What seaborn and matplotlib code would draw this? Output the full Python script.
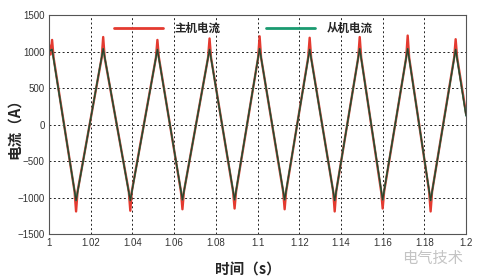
import matplotlib
matplotlib.use("Agg")
import matplotlib.pyplot as plt
import seaborn as sns
import pandas as pd

# data
slave_time = [1.000, 1.0015, 1.013, 1.026, 1.039, 1.052, 1.064, 1.077, 1.089,
              1.101, 1.113, 1.125, 1.137, 1.149, 1.160, 1.172, 1.183, 1.195, 1.200]
slave_current = [1005, 1030, -1040, 1040, -1040, 1030, -1030, 1030, -1030,
                 1040, -1030, 1030, -1040, 1040, -1030, 1040, -1040, 1030, 120]
main_time = [1.000, 1.0008, 1.0015, 1.0022,
             1.0123, 1.013, 1.0137,
             1.0253, 1.026, 1.0267,
             1.0383, 1.039, 1.0397,
             1.0513, 1.052, 1.0527,
             1.0633, 1.064, 1.0647,
             1.0763, 1.077, 1.0777,
             1.0883, 1.089, 1.0897,
             1.1003, 1.101, 1.1017,
             1.1123, 1.113, 1.1137,
             1.1243, 1.125, 1.1257,
             1.1363, 1.137, 1.1377,
             1.1483, 1.149, 1.1497,
             1.1593, 1.160, 1.1607,
             1.1713, 1.172, 1.1727,
             1.1823, 1.183, 1.1837,
             1.1943, 1.195, 1.1957,
             1.200]
main_current = [1100, 960, 1160, 920,
                -920, -1190, -920,
                920, 1200, 920,
                -920, -1180, -920,
                920, 1160, 920,
                -920, -1160, -920,
                920, 1180, 920,
                -920, -1150, -920,
                920, 1210, 920,
                -920, -1160, -920,
                920, 1190, 920,
                -920, -1190, -920,
                920, 1200, 920,
                -920, -1150, -920,
                920, 1220, 920,
                -920, -1190, -920,
                920, 1170, 920,
                150]
x_ticks = [1, 1.02, 1.04, 1.06, 1.08, 1.1, 1.12, 1.14, 1.16, 1.18, 1.2]
x_tick_labels = ["1", "1.02", "1.04", "1.06", "1.08", "1.1", "1.12", "1.14", "1.16", "1.18", "1.2"]
y_ticks = [-1500, -1000, -500, 0, 500, 1000, 1500]
series_names = ["主机电流", "从机电流"]

sns.set_style("white")
cjk = ["Noto Sans CJK SC", "DejaVu Sans"]
plt.rcParams["font.family"] = ["Liberation Sans", "DejaVu Sans"]

main_df = pd.DataFrame({"t": main_time, "i": main_current})
slave_df = pd.DataFrame({"t": slave_time, "i": slave_current})

fig = plt.figure(figsize=(4.8, 2.8), dpi=100)
ax = fig.add_axes([0.102, 0.164, 0.869, 0.782])

sns.lineplot(data=main_df, x="t", y="i", ax=ax, color="#e43a30", linewidth=1.7,
             label=series_names[0])
sns.lineplot(data=slave_df, x="t", y="i", ax=ax, color="#1a9a70", linewidth=1.2,
             label=series_names[1])
# dark core where the two currents coincide
sns.lineplot(data=slave_df, x="t", y="i", ax=ax, color="#3d2e1c", linewidth=0.9,
             alpha=0.9, legend=False)

ax.set_xlim(1, 1.2)
ax.set_ylim(-1500, 1500)
ax.set_xticks(x_ticks)
ax.set_xticklabels(x_tick_labels)
ax.set_yticks(y_ticks)
ax.tick_params(direction="in", length=3, labelsize=7, colors="#333333", pad=3)
for lab in ax.get_xticklabels() + ax.get_yticklabels():
    lab.set_color("#333333")
ax.grid(True, linestyle=(0, (2, 2.5)), color="#222222", linewidth=0.7)
for s in ax.spines.values():
    s.set_color("#555555")
    s.set_linewidth(0.8)

ax.set_xlabel("时间（s）", family=cjk, fontsize=10.5, fontweight="bold")
ax.xaxis.set_label_coords(0.477, -0.125)
ax.set_ylabel("电流（A）", family=cjk, fontsize=10.5, fontweight="bold")
ax.yaxis.set_label_coords(-0.065, 0.5)

leg = ax.legend(loc="upper left", bbox_to_anchor=(0.13, 1.015), ncol=2, frameon=False,
                handlelength=4.3, columnspacing=3.9, handletextpad=1.0,
                prop={"family": cjk, "size": 8.3, "weight": "bold"})
for h in leg.get_lines():
    h.set_linewidth(2.0)

fig.text(0.838, 0.06, "电气技术", family=cjk, fontsize=11, color="#c4c4c4")

fig.savefig("out.png", dpi=100)
